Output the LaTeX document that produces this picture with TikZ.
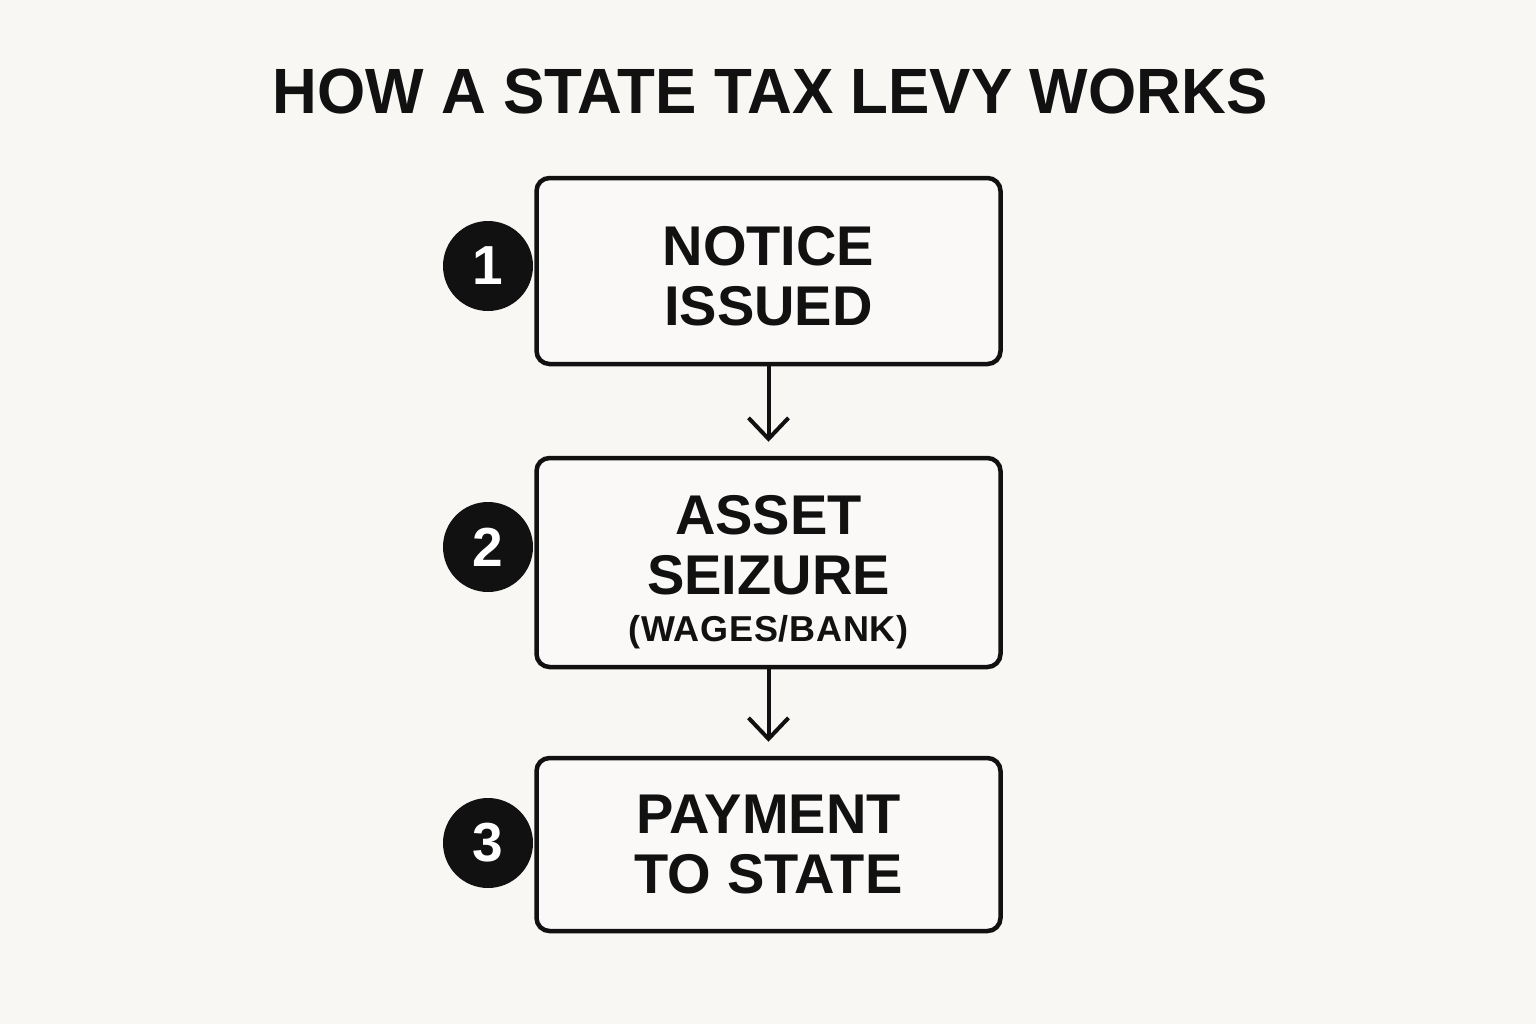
\documentclass[tikz,border=0pt]{standalone}
\usepackage{fontspec}
\setmainfont{Liberation Sans}
\usetikzlibrary{arrows.meta}
\definecolor{bg}{HTML}{F8F7F4}
\definecolor{boxfill}{HTML}{FAF9F7}
\definecolor{ink}{HTML}{111111}
\tikzset{
  stepbox/.style={draw=ink, fill=boxfill, line width=4.5bp, rounded corners=13bp,
    minimum width=464bp, align=center, inner sep=0pt, text depth=0pt,
    font=\fontsize{56bp}{60bp}\selectfont\bfseries, text=ink},
  numdot/.style={circle, fill=ink, minimum size=90bp, inner sep=0pt,
    text=white, font=\fontsize{55bp}{55bp}\selectfont\bfseries},
  flow/.style={draw=ink, line width=4bp, shorten >=14bp,
    -{Straight Barb[length=21bp, width=40bp, line width=4bp]}},
}
\begin{document}
\begin{tikzpicture}[x=1bp, y=-1bp]
\fill[bg] (0,0) rectangle (1536,1024);
\useasboundingbox (0,0) rectangle (1536,1024);

\node[anchor=base, text=ink] (title) at (770,113)
  {\scalebox{0.968}[1]{\fontsize{64bp}{64bp}\selectfont\bfseries HOW A STATE TAX LEVY WORKS}};

\node[stepbox, minimum height=186bp] (b1) at (768.5,271) {\rule{0pt}{49bp}NOTICE\\ISSUED};
\node[stepbox, minimum height=209bp] (b2) at (768.5,562.5)
  {\rule{0pt}{50bp}ASSET\\SEIZURE\\[-13bp]{\fontsize{36bp}{40bp}\selectfont\addfontfeature{LetterSpace=2} (WAGES/BANK)}};
\node[stepbox, minimum height=173bp] (b3) at (768.5,844.5) {PAYMENT\\TO STATE};

\node[numdot] (n1) at (488,266) {1};
\node[numdot] (n2) at (488,547) {2};
\node[numdot] (n3) at (488,843) {3};

\draw[flow] (b1.south) -- (b2.north);
\draw[flow] (b2.south) -- (b3.north);
\end{tikzpicture}
\end{document}
